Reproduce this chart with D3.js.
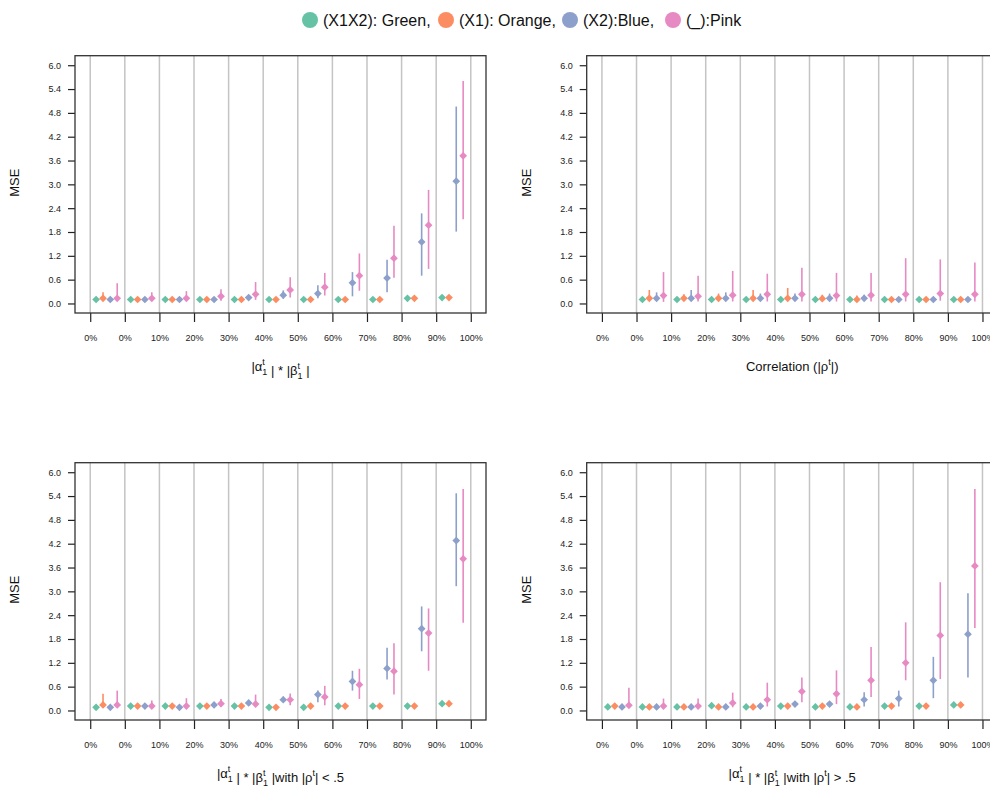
<!DOCTYPE html>
<html>
<head>
<meta charset="utf-8">
<script src="https://cdn.jsdelivr.net/npm/d3@7"></script>
<style>
  body { margin: 0; background: #fff; }
  svg { display: block; overflow: hidden; font-family: "Liberation Sans", Arial, sans-serif; }
</style>
</head>
<body>
<svg id="chart" width="990" height="787"></svg>
<script>
// tick labels along the x axis (12 ticks, 11 intervals)
var tickLabels = ["0%", "0%", "10%", "20%", "30%", "40%", "50%", "60%", "70%", "80%", "90%", "100%"];
var yTicks = [0, 0.6, 1.2, 1.8, 2.4, 3.0, 3.6, 4.2, 4.8, 5.4, 6.0];
var seriesNames = ["(X1X2): Green,", "(X1): Orange,", "(X2):Blue,", "(_):Pink"];
var seriesColors = ["#66c2a5", "#fc8d62", "#8da0cb", "#e78ac3"];

// each entry: [mean, low, high] for one interval, null = no point
var tlGreen = [[0.10,0.08,0.12],[0.10,0.08,0.12],[0.10,0.08,0.12],[0.10,0.08,0.12],[0.10,0.08,0.12],[0.10,0.08,0.12],[0.10,0.08,0.12],[0.10,0.08,0.12],[0.10,0.08,0.12],[0.13,0.11,0.15],[0.15,0.13,0.17]];
var tlOrange = [[0.13,0.08,0.28],[0.10,0.08,0.15],[0.10,0.08,0.13],[0.10,0.08,0.13],[0.10,0.08,0.12],[0.10,0.08,0.12],[0.10,0.08,0.12],[0.10,0.08,0.13],[0.10,0.08,0.13],[0.13,0.11,0.16],[0.15,0.13,0.17]];
var tlBlue = [[0.10,0.08,0.12],[0.10,0.08,0.13],[0.10,0.08,0.13],[0.10,0.08,0.13],[0.15,0.10,0.21],[0.21,0.12,0.33],[0.25,0.13,0.46],[0.52,0.18,0.79],[0.64,0.28,1.10],[1.55,0.70,2.27],[3.08,1.81,4.96]];
var tlPink = [[0.13,0.08,0.51],[0.13,0.09,0.28],[0.13,0.08,0.31],[0.18,0.07,0.36],[0.23,0.09,0.54],[0.34,0.15,0.66],[0.41,0.20,0.77],[0.70,0.32,1.26],[1.14,0.65,1.96],[1.97,0.87,2.86],[3.72,2.12,5.60]];

var trGreen = [null,[0.10,0.08,0.12],[0.10,0.08,0.12],[0.10,0.08,0.12],[0.10,0.08,0.12],[0.10,0.08,0.12],[0.10,0.08,0.12],[0.10,0.08,0.12],[0.10,0.08,0.12],[0.10,0.08,0.12],[0.10,0.08,0.12]];
var trOrange = [null,[0.13,0.08,0.34],[0.13,0.08,0.23],[0.13,0.08,0.25],[0.13,0.08,0.34],[0.13,0.08,0.39],[0.12,0.08,0.22],[0.10,0.07,0.20],[0.10,0.08,0.13],[0.10,0.08,0.12],[0.10,0.08,0.12]];
var trBlue = [null,[0.13,0.08,0.28],[0.13,0.08,0.34],[0.13,0.08,0.28],[0.13,0.08,0.25],[0.13,0.08,0.25],[0.13,0.08,0.25],[0.13,0.08,0.22],[0.10,0.08,0.13],[0.10,0.08,0.12],[0.10,0.08,0.12]];
var trPink = [null,[0.20,0.04,0.79],[0.18,0.05,0.70],[0.21,0.05,0.82],[0.23,0.05,0.75],[0.23,0.05,0.90],[0.20,0.05,0.77],[0.21,0.05,0.77],[0.23,0.05,1.14],[0.25,0.07,1.11],[0.23,0.05,1.03]];

var blGreen = [[0.08,0.06,0.10],[0.11,0.09,0.13],[0.11,0.09,0.13],[0.11,0.09,0.13],[0.11,0.09,0.13],[0.08,0.06,0.10],[0.08,0.06,0.10],[0.11,0.09,0.13],[0.11,0.09,0.13],[0.11,0.09,0.13],[0.17,0.15,0.19]];
var blOrange = [[0.14,0.08,0.42],[0.11,0.08,0.17],[0.11,0.08,0.16],[0.11,0.09,0.14],[0.11,0.09,0.13],[0.08,0.06,0.10],[0.11,0.08,0.18],[0.11,0.08,0.17],[0.11,0.08,0.17],[0.11,0.08,0.15],[0.17,0.15,0.19]];
var blBlue = [[0.08,0.06,0.10],[0.11,0.09,0.13],[0.08,0.06,0.10],[0.14,0.12,0.16],[0.19,0.16,0.22],[0.27,0.21,0.35],[0.40,0.21,0.50],[0.73,0.50,1.00],[1.06,0.78,1.58],[2.06,1.49,2.62],[4.28,3.13,5.47]];
var blPink = [[0.14,0.08,0.50],[0.11,0.08,0.25],[0.11,0.07,0.31],[0.17,0.10,0.29],[0.16,0.10,0.40],[0.27,0.13,0.43],[0.34,0.13,0.62],[0.65,0.29,1.05],[0.99,0.40,1.69],[1.95,1.00,2.57],[3.82,2.21,5.58]];

var brGreen = [[0.09,0.07,0.11],[0.09,0.07,0.11],[0.09,0.07,0.11],[0.12,0.10,0.14],[0.09,0.07,0.11],[0.11,0.09,0.13],[0.09,0.07,0.11],[0.09,0.07,0.11],[0.11,0.09,0.13],[0.11,0.09,0.13],[0.14,0.12,0.16]];
var brOrange = [[0.11,0.09,0.13],[0.09,0.06,0.14],[0.09,0.07,0.11],[0.09,0.07,0.11],[0.09,0.07,0.11],[0.11,0.09,0.13],[0.11,0.09,0.13],[0.09,0.06,0.13],[0.11,0.09,0.13],[0.11,0.09,0.13],[0.14,0.12,0.16]];
var brBlue = [[0.09,0.07,0.11],[0.09,0.07,0.11],[0.09,0.07,0.11],[0.09,0.07,0.11],[0.11,0.09,0.13],[0.16,0.13,0.19],[0.16,0.13,0.19],[0.27,0.10,0.46],[0.30,0.10,0.50],[0.76,0.31,1.35],[1.92,0.83,2.95]];
var brPink = [[0.13,0.08,0.57],[0.11,0.08,0.30],[0.11,0.08,0.30],[0.19,0.08,0.45],[0.27,0.10,0.70],[0.48,0.21,0.83],[0.42,0.16,1.01],[0.76,0.34,1.60],[1.20,0.76,2.22],[1.89,0.79,3.23],[3.64,2.08,5.58]];

// where the 4 series sit inside one interval
var offsets = [0.17, 0.37, 0.58, 0.78];

var svg = d3.select("#chart");

// legend
var legend = svg.append("g");
var legX = [310, 446, 570, 673];
seriesNames.forEach(function(name, i){
  legend.append("circle").attr("cx", legX[i]).attr("cy", 20).attr("r", 8).attr("fill", seriesColors[i]);
  legend.append("text").attr("x", legX[i] + 13).attr("y", 26)
    .attr("font-size", 16).attr("fill", "#111").text(name);
});

// builds the R-style math labels with stacked sub/superscripts
function stacked(t, base, sub){
  t.append("tspan").text(base);
  t.append("tspan").attr("font-size", 9).attr("dy", -6).text("t");
  if (sub) {
    t.append("tspan").attr("font-size", 9).attr("dx", -2.5).attr("dy", 10).text(sub);
    t.append("tspan").attr("dy", -4).text("");
  } else {
    t.append("tspan").attr("dy", 6).text("");
  }
}
function labelAB(t, tail){
  stacked(t, "|\u03b1", "1");
  t.append("tspan").text(" | * |\u03b2");
  t.append("tspan").attr("font-size", 9).attr("dy", -6).text("t");
  t.append("tspan").attr("font-size", 9).attr("dx", -2.5).attr("dy", 10).text("1");
  t.append("tspan").attr("dy", -4).text(" |" + (tail ? "with |\u03c1" : ""));
  if (tail) {
    t.append("tspan").attr("font-size", 9).attr("dy", -6).text("t");
    t.append("tspan").attr("dy", 6).text("| " + tail);
  }
}

var panels = [
  {x0: 75, y0: 55.7, series: [tlGreen, tlOrange, tlBlue, tlPink], label: function(t){ labelAB(t, null); }},
  {x0: 586.7, y0: 55.7, series: [trGreen, trOrange, trBlue, trPink], label: function(t){
      t.append("tspan").text("Correlation (|\u03c1");
      t.append("tspan").attr("font-size", 9).attr("dy", -6).text("t");
      t.append("tspan").attr("dy", 6).text("|)");
  }},
  {x0: 75, y0: 462.7, series: [blGreen, blOrange, blBlue, blPink], label: function(t){ labelAB(t, "< .5"); }},
  {x0: 586.7, y0: 462.7, series: [brGreen, brOrange, brBlue, brPink], label: function(t){ labelAB(t, "> .5"); }}
];

var boxW = 411, boxH = 257.3;
var diamond = d3.symbol().type(d3.symbolSquare).size(30);

panels.forEach(function(p){
  var x = d3.scaleLinear().domain([-0.44, 11.44]).range([p.x0, p.x0 + boxW]);
  var y = d3.scaleLinear().domain([-0.24, 6.24]).range([p.y0 + boxH, p.y0]);
  var g = svg.append("g");

  // vertical grid lines at every tick
  g.selectAll(".grid").data(d3.range(12)).enter().append("line")
    .attr("x1", function(d){ return x(d); }).attr("x2", function(d){ return x(d); })
    .attr("y1", p.y0).attr("y2", p.y0 + boxH)
    .attr("stroke", "#c4c4c4").attr("stroke-width", 1.5);

  // y axis
  var ya = g.append("g").attr("transform", "translate(" + p.x0 + ",0)")
    .call(d3.axisLeft(y).tickValues(yTicks).tickFormat(d3.format(".1f")).tickSize(7).tickPadding(7));
  ya.select(".domain").remove();
  ya.selectAll("line").attr("stroke", "#222").attr("stroke-width", 1.2);
  ya.selectAll("text").attr("font-size", 9).attr("fill", "#222").attr("font-family", "Liberation Sans, Arial");

  // x axis
  var xa = g.append("g").attr("transform", "translate(0," + (p.y0 + boxH) + ")")
    .call(d3.axisBottom(x).tickValues(d3.range(12)).tickFormat(function(i){ return tickLabels[i]; }).tickSize(9).tickPadding(13));
  xa.select(".domain").remove();
  xa.selectAll("line").attr("stroke", "#222").attr("stroke-width", 1.2);
  xa.selectAll("text").attr("font-size", 9).attr("fill", "#222").attr("font-family", "Liberation Sans, Arial");

  // box
  g.append("rect").attr("x", p.x0).attr("y", p.y0).attr("width", boxW).attr("height", boxH)
    .attr("fill", "none").attr("stroke", "#333").attr("stroke-width", 1.3);

  // error bars and points
  p.series.forEach(function(s, k){
    var pts = s.map(function(d, i){ return d ? {x: i + offsets[k], m: d[0], lo: d[1], hi: d[2]} : null; })
      .filter(function(d){ return d; });
    g.selectAll(".err" + k).data(pts).enter().append("line")
      .attr("x1", function(d){ return x(d.x); }).attr("x2", function(d){ return x(d.x); })
      .attr("y1", function(d){ return y(d.lo); }).attr("y2", function(d){ return y(d.hi); })
      .attr("stroke", seriesColors[k]).attr("stroke-width", 1.6);
    g.selectAll(".pt" + k).data(pts).enter().append("path")
      .attr("d", diamond)
      .attr("transform", function(d){ return "translate(" + x(d.x) + "," + y(d.m) + ") rotate(45)"; })
      .attr("fill", seriesColors[k]);
  });

  // axis titles
  g.append("text").attr("transform", "translate(" + (p.x0 - 56) + "," + (p.y0 + 127) + ") rotate(-90)")
    .attr("text-anchor", "middle").attr("font-size", 13).attr("fill", "#111").text("MSE");
  var t = g.append("text").attr("x", p.x0 + boxW / 2).attr("y", p.y0 + 315)
    .attr("text-anchor", "middle").attr("font-size", 13).attr("fill", "#111");
  p.label(t);
});
</script>
</body>
</html>
